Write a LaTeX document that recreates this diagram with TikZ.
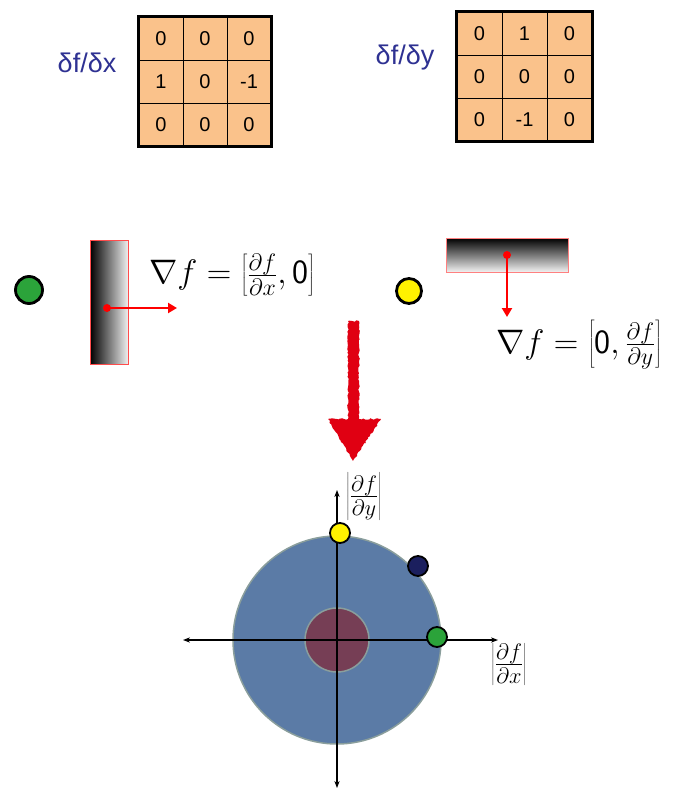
\RequirePackage{fix-cm}
\documentclass[tikz,border=0pt]{standalone}
\usepackage{fontspec}
\setmainfont{Liberation Sans}
\usetikzlibrary{decorations.pathmorphing,arrows.meta}
\definecolor{peach}{HTML}{FAC28B}
\definecolor{labblue}{HTML}{2E3192}
\definecolor{dotgreen}{HTML}{2BA33A}
\definecolor{dotyellow}{HTML}{FFF200}
\definecolor{dotnavy}{HTML}{1B1F5E}
\definecolor{bigblue}{HTML}{5B7BA6}
\definecolor{rimgray}{HTML}{8A9E9C}
\definecolor{innerred}{HTML}{763E55}
\definecolor{arrred}{HTML}{E00012}
\begin{document}
\begin{tikzpicture}[x=1pt,y=-1pt,
  cell/.style={draw=black, line width=0.9pt, fill=peach, minimum width=44pt, minimum height=43pt, inner sep=0pt, font=\fontsize{20}{24}\selectfont},
  cellb/.style={cell, minimum width=45pt},
  klabel/.style={text=labblue, font=\fontsize{27}{32}\selectfont},
  bigdot/.style={circle, draw=black, line width=2.8pt, inner sep=0pt},
  smalldot/.style={circle, draw=black, line width=1.8pt, inner sep=0pt, minimum size=20pt},
  gradarrow/.style={draw=red, line width=2.2pt, -{Triangle[length=9pt,width=10pt]}},
  mathbig/.style={font=\fontsize{34}{40}\selectfont, inner sep=0pt},
  mathlab/.style={font=\fontsize{32}{38}\selectfont, inner sep=0pt},
  axis/.style={line width=1.4pt, {Stealth[length=7pt]}-{Stealth[length=7pt]}}
]
\useasboundingbox (0,0) rectangle (688,802);

% ---- kernel dx
\node[klabel] (lx) at (87,63) {δf/δx};
\foreach \r/\c/\v in {0/0/0,0/1/0,0/2/0,1/0/1,1/1/0,1/2/-1,2/0/0,2/1/0,2/2/0}
  \node[cell] (a\r\c) at ({139+44*\c+22},{17+43*\r+21.5}) {\v};
\draw[line width=3pt] (a00.north west) rectangle (a22.south east);

% ---- kernel dy
\node[klabel] (ly) at (405,58) {δf/δy};
\foreach \r/\c/\v in {0/0/0,0/1/1,0/2/0,1/0/0,1/1/0,1/2/0,2/0/0,2/1/-1,2/2/0}
  \node[cellb] (b\r\c) at ({457+45*\c+22.5},{12+43*\r+21.5}) {\v};
\draw[line width=3pt] (b00.north west) rectangle (b22.south east);

% ---- vertical edge example
\node[bigdot, fill=dotgreen, minimum size=27pt] (gdot) at (29,290) {};
\node[draw=red!70, line width=0.6pt, left color=black, right color=gray!12, minimum width=38pt, minimum height=124pt, inner sep=0pt] (vbar) at (109,302) {};
\coordinate (vs) at (107,308);
\coordinate (ve) at (177,308);
\fill[red] (vs) circle (4pt);
\draw[gradarrow] (vs) -- (ve);
\node[mathbig] (gx) at (232,275) {$\nabla f = \left[\frac{\partial f}{\partial x}, \mbox{\sffamily 0}\right]$};

% ---- horizontal edge example
\node[bigdot, fill=dotyellow, minimum size=25pt] (ydot) at (409,291) {};
\node[draw=red!50, line width=0.6pt, top color=black, bottom color=gray!10, minimum width=122pt, minimum height=34pt, inner sep=0pt] (hbar) at (507,255) {};
\coordinate (hs) at (507,255);
\coordinate (he) at (507,317);
\fill[red] (hs) circle (4pt);
\draw[gradarrow] (hs) -- (he);
\node[mathbig] (gy) at (579,345) {$\nabla f = \left[\mbox{\sffamily 0}, \frac{\partial f}{\partial y}\right]$};

% ---- big red arrow
\fill[arrred, decorate, decoration={random steps, segment length=2pt, amplitude=0.8pt}]
  (348,321) -- (359,321) -- (359,419) -- (381,419) -- (353,461) -- (328,419) -- (348,419) -- cycle;

% ---- gradient space
\coordinate (o) at (337,640);
\node[circle, fill=bigblue, draw=rimgray, line width=1.5pt, minimum size=208pt, inner sep=0pt] (outer) at (o) {};
\node[circle, fill=innerred, draw=rimgray, line width=1.5pt, minimum size=64pt, inner sep=0pt] (inner) at (o) {};
\coordinate (xl) at (183,640);
\coordinate (xr) at (498,640);
\coordinate (yt) at (337,490);
\coordinate (yb) at (337,788);
\draw[axis] (xl) -- (xr);
\draw[axis] (yb) -- (yt);
\node[smalldot, fill=dotyellow] (yd) at (340,533) {};
\node[smalldot, fill=dotnavy] (nd) at (418,566) {};
\node[smalldot, fill=dotgreen] (gd) at (437,637) {};
\node[mathlab] (laby) at (364,496) {$\left|\frac{\partial f}{\partial y}\right|$};
\node[mathlab] (labx) at (509,664) {$\left|\frac{\partial f}{\partial x}\right|$};
\end{tikzpicture}
\end{document}
